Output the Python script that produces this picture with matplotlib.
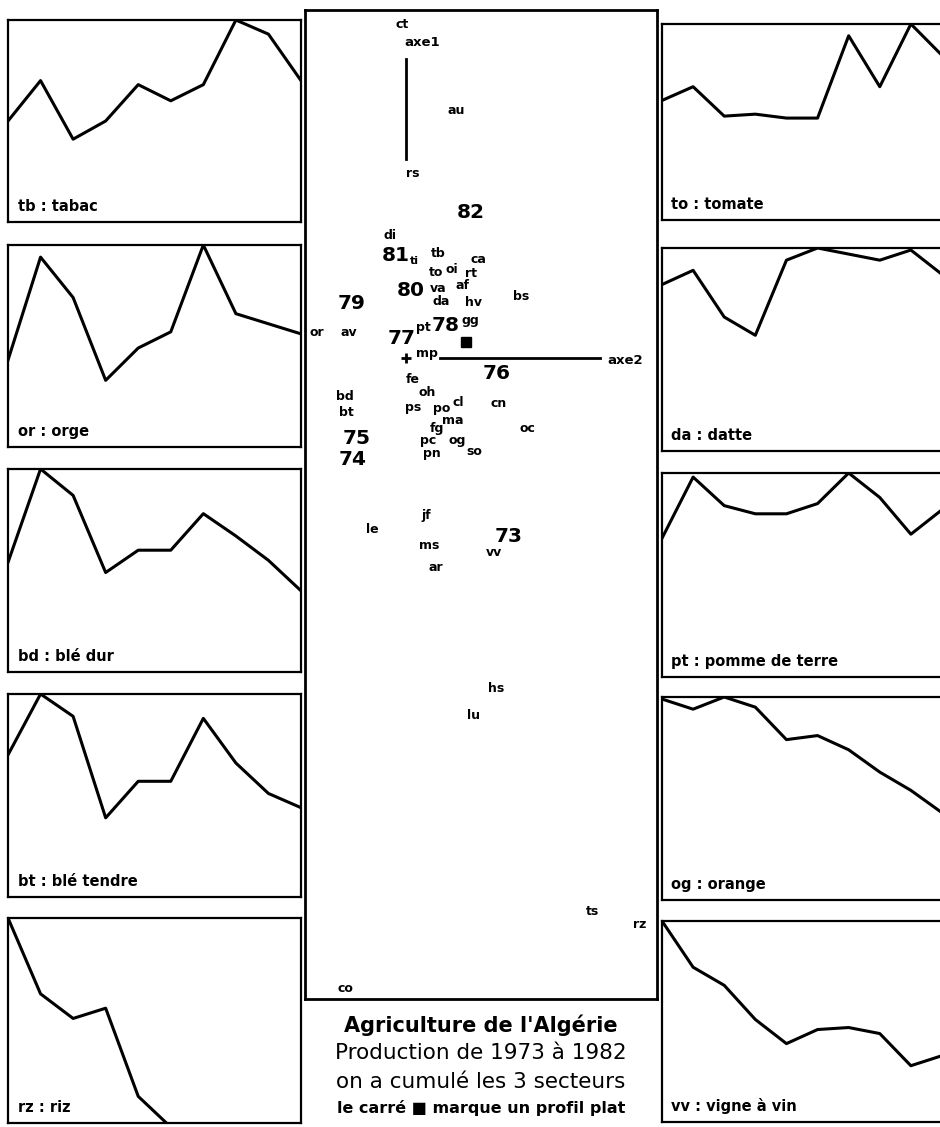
import matplotlib
matplotlib.use("Agg")
import matplotlib.pyplot as plt
import numpy as np

plt.rcParams['font.family'] = ['DejaVu Sans']

# ---------------- data ----------------
years = list(range(1973, 1983))

# profiles (relative scale, 1 = max of panel)
left_codes = ["tb", "or", "bd", "bt", "rz"]
left_names = ["tb : tabac", "or : orge", "bd : blé dur", "bt : blé tendre", "rz : riz"]
tb_vals = [0.50, 0.70, 0.41, 0.50, 0.68, 0.60, 0.68, 1.00, 0.93, 0.70]
or_vals = [0.43, 0.94, 0.74, 0.33, 0.49, 0.57, 1.00, 0.66, 0.61, 0.56]
bd_vals = [0.54, 1.00, 0.87, 0.49, 0.60, 0.60, 0.78, 0.67, 0.55, 0.40]
bt_vals = [0.70, 1.00, 0.89, 0.39, 0.57, 0.57, 0.88, 0.66, 0.51, 0.44]
rz_vals = [1.00, 0.63, 0.51, 0.56, 0.13, -0.02, -0.30, -0.40, -0.50, -0.60]

right_codes = ["to", "da", "pt", "og", "vv"]
right_names = ["to : tomate", "da : datte", "pt : pomme de terre", "og : orange", "vv : vigne à vin"]
to_vals = [0.61, 0.68, 0.53, 0.54, 0.52, 0.52, 0.94, 0.68, 1.00, 0.84]
da_vals = [0.82, 0.89, 0.66, 0.57, 0.94, 1.00, 0.97, 0.94, 0.99, 0.87]
pt_vals = [0.68, 0.98, 0.84, 0.80, 0.80, 0.85, 1.00, 0.88, 0.70, 0.82]
og_vals = [0.99, 0.94, 1.00, 0.95, 0.79, 0.81, 0.74, 0.63, 0.54, 0.43]
vv_vals = [1.00, 0.77, 0.68, 0.51, 0.39, 0.46, 0.47, 0.44, 0.28, 0.33]

left_vals = [tb_vals, or_vals, bd_vals, bt_vals, rz_vals]
right_vals = [to_vals, da_vals, pt_vals, og_vals, vv_vals]

# correspondence analysis map: horizontal = axe2, vertical = axe1
prod_labels = ["ct", "au", "rs", "di", "ti", "tb", "to", "oi", "ca", "rt", "va", "af",
               "da", "hv", "bs", "pt", "gg", "or", "av", "mp", "fe", "oh", "bd", "bt",
               "ps", "po", "cl", "cn", "ma", "fg", "oc", "pc", "og", "so", "pn", "jf",
               "le", "ms", "vv", "ar", "hs", "lu", "ts", "rz", "co"]
prod_f2 = [-0.04, 0.50, 0.07, -0.16, 0.08, 0.32, 0.30, 0.46, 0.72, 0.65, 0.32, 0.57,
           0.35, 0.68, 1.15, 0.17, 0.64, -0.89, -0.57, 0.21, 0.07, 0.21, -0.61, -0.60,
           0.07, 0.36, 0.52, 0.93, 0.47, 0.31, 1.21, 0.22, 0.51, 0.68, 0.26, 0.20,
           -0.34, 0.23, 0.88, 0.30, 0.90, 0.68, 1.87, 2.34, -0.61]
prod_f1 = [3.33, 2.48, 1.85, 1.23, 0.97, 1.05, 0.86, 0.89, 0.99, 0.85, 0.70, 0.73,
           0.57, 0.56, 0.62, 0.31, 0.38, 0.26, 0.26, 0.05, -0.21, -0.34, -0.38, -0.54,
           -0.49, -0.50, -0.44, -0.45, -0.62, -0.70, -0.70, -0.82, -0.82, -0.93, -0.95,
           -1.57, -1.71, -1.87, -1.94, -2.09, -3.30, -3.57, -5.53, -5.66, -6.30]

year_labels = ["82", "81", "80", "79", "78", "77", "76", "75", "74", "73"]
year_f2 = [0.65, -0.10, 0.05, -0.54, 0.40, -0.04, 0.91, -0.49, -0.53, 1.03]
year_f1 = [1.46, 1.03, 0.68, 0.55, 0.33, 0.20, -0.15, -0.80, -1.01, -1.78]

flat_profile = (0.60, 0.16)          # the square: flat profile
centre = (0.0, 0.0)                  # '+'
axe1_seg = ([0.0, 0.0], [2.99, 1.99])
axe2_seg = ([0.34, 1.94], [0.0, 0.0])
axe1_label = (0.16, 3.15)
axe2_label = (2.19, -0.02)

title_lines = ["Agriculture de l'Algérie", "Production de 1973 à 1982",
               "on a cumulé les 3 secteurs", "le carré \u25A0 marque un profil plat"]

# ---------------- layout ----------------
W, H = 940, 1127
fig = plt.figure(figsize=(W / 100, H / 100), dpi=100)


def px_axes(x0, y0, x1, y1):
    return fig.add_axes([x0 / W, 1 - y1 / H, (x1 - x0) / W, (y1 - y0) / H])


def profile_panel(ax, vals, name):
    ax.plot(years, vals, color='black', lw=2.2, clip_on=True, solid_joinstyle='round')
    ax.set_xlim(years[0], years[-1])
    ax.set_ylim(0, 1)
    ax.set_xticks([])
    ax.set_yticks([])
    for s in ax.spines.values():
        s.set_linewidth(1.6)
    ax.text(0.033, 0.04, name, transform=ax.transAxes, fontsize=10.5,
            fontweight='bold', ha='left', va='bottom')


left_tops = [20, 245, 469, 694, 918]
left_bots = [222, 447, 672, 897, 1123]
for vals, name, t, b in zip(left_vals, left_names, left_tops, left_bots):
    ax = px_axes(8, t, 301, b)
    profile_panel(ax, vals, name)

right_tops = [24, 248, 473, 697, 921]
right_bots = [220, 451, 677, 900, 1122]
for vals, name, t, b in zip(right_vals, right_names, right_tops, right_bots):
    ax = px_axes(662, t, 942, b)
    profile_panel(ax, vals, name)

# central map
cx = px_axes(305, 10, 657, 999)
cx.set_xlim(-1.01, 2.51)
cx.set_ylim(-6.41, 3.48)
cx.set_xticks([])
cx.set_yticks([])
for s in cx.spines.values():
    s.set_linewidth(2.0)

for lab, x, y in zip(prod_labels, prod_f2, prod_f1):
    sz = 8 if lab == "ti" else 9
    cx.text(x, y, lab, fontsize=sz, fontweight='bold', ha='center', va='center')
for lab, x, y in zip(year_labels, year_f2, year_f1):
    cx.text(x, y, lab, fontsize=14.5, fontweight='bold', ha='center', va='center')

cx.plot(*axe1_seg, color='black', lw=2.0)
cx.plot(*axe2_seg, color='black', lw=2.0)
cx.text(*axe1_label, "axe1", fontsize=9.5, fontweight='bold', ha='center', va='center')
cx.text(*axe2_label, "axe2", fontsize=9.5, fontweight='bold', ha='center', va='center')
cx.plot(*centre, marker='+', color='black', ms=7, mew=2)
cx.plot(*flat_profile, marker='s', color='black', ms=7)

# title block
ty = [1025, 1053, 1082, 1108]
tsz = [15, 15.5, 15.5, 11.5]
tw = ['bold', 'normal', 'normal', 'bold']
for line, y, s, w in zip(title_lines, ty, tsz, tw):
    fig.text(481 / W, 1 - y / H, line, fontsize=s, fontweight=w, ha='center', va='center')

fig.savefig("out.png", dpi=100, facecolor='white')
